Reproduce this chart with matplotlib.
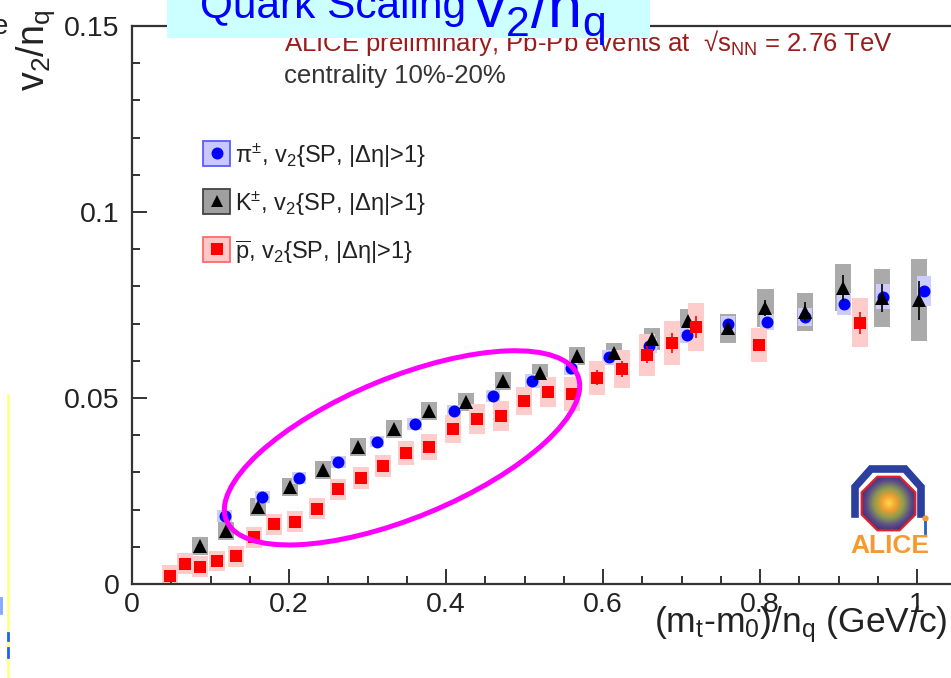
import numpy as np
import matplotlib
matplotlib.use("Agg")
import matplotlib.pyplot as plt
from matplotlib.patches import Ellipse, Polygon, Rectangle
from matplotlib.lines import Line2D
from matplotlib.transforms import ScaledTranslation
from matplotlib.ticker import MultipleLocator, FixedLocator, FuncFormatter
from matplotlib.colors import LinearSegmentedColormap

W, H = 951, 678

# pi+- v2/nq vs (mt-m0)/nq
pi_x = [0.118, 0.166, 0.213, 0.263, 0.312, 0.360, 0.410, 0.460, 0.510, 0.559,
        0.608, 0.659, 0.707, 0.759, 0.809, 0.857, 0.907, 0.957, 1.009]
pi_v2 = [0.0183, 0.0234, 0.0285, 0.0328, 0.0382, 0.0430, 0.0465, 0.0505, 0.0546, 0.0581,
         0.0610, 0.0640, 0.0669, 0.0699, 0.0704, 0.0718, 0.0753, 0.0772, 0.0788]
pi_stat = [0.0003, 0.0003, 0.0003, 0.0003, 0.0003, 0.0003, 0.0003, 0.0004, 0.0004, 0.0004,
           0.0005, 0.0005, 0.0006, 0.0007, 0.0008, 0.0009, 0.0010, 0.0012, 0.0014]
pi_sys = [0.0015, 0.0015, 0.0015, 0.0015, 0.0015, 0.0015, 0.0016, 0.0017, 0.0018, 0.0019,
          0.0020, 0.0020, 0.0021, 0.0022, 0.0022, 0.0024, 0.0030, 0.0034, 0.0040]

# K+- v2/nq
k_x = [0.087, 0.120, 0.161, 0.201, 0.243, 0.288, 0.334, 0.378, 0.425, 0.473, 0.520,
       0.567, 0.614, 0.662, 0.708, 0.759, 0.807, 0.857, 0.906, 0.955, 1.002]
k_v2 = [0.0102, 0.0142, 0.0207, 0.0261, 0.0306, 0.0368, 0.0417, 0.0465, 0.0489, 0.0546, 0.0567,
        0.0613, 0.0622, 0.0659, 0.0707, 0.0688, 0.0742, 0.0731, 0.0796, 0.0769, 0.0763]
k_stat = [0.0005, 0.0005, 0.0005, 0.0005, 0.0005, 0.0005, 0.0005, 0.0006, 0.0006, 0.0007, 0.0007,
          0.0008, 0.0010, 0.0010, 0.0012, 0.0016, 0.0021, 0.0028, 0.0035, 0.0037, 0.0052]
k_sys = [0.0025, 0.0025, 0.0025, 0.0025, 0.0025, 0.0025, 0.0025, 0.0025, 0.0025, 0.0025, 0.0025,
         0.0025, 0.0025, 0.0030, 0.0032, 0.0039, 0.0050, 0.0052, 0.0063, 0.0078, 0.0110]

# anti-proton v2/nq
p_x = [0.048, 0.068, 0.087, 0.108, 0.132, 0.155, 0.181, 0.208, 0.236, 0.262, 0.292, 0.320, 0.349,
       0.378, 0.409, 0.439, 0.470, 0.499, 0.530, 0.561, 0.592, 0.624, 0.656, 0.688, 0.718, 0.799, 0.927]
p_v2 = [0.0022, 0.0054, 0.0046, 0.0062, 0.0075, 0.0126, 0.0161, 0.0167, 0.0202, 0.0255, 0.0285,
        0.0317, 0.0352, 0.0368, 0.0417, 0.0444, 0.0452, 0.0492, 0.0516, 0.0511, 0.0554, 0.0578,
        0.0616, 0.0648, 0.0691, 0.0642, 0.0702]
p_stat = [0.0015, 0.0008, 0.0008, 0.0006, 0.0006, 0.0005, 0.0005, 0.0005, 0.0005, 0.0005, 0.0005,
          0.0006, 0.0006, 0.0007, 0.0007, 0.0008, 0.0009, 0.0010, 0.0013, 0.0015, 0.0020, 0.0022,
          0.0023, 0.0028, 0.0030, 0.0010, 0.0030]
p_sys = [0.0028, 0.0028, 0.0028, 0.0028, 0.0028, 0.0028, 0.0028, 0.0028, 0.0028, 0.0028, 0.0029,
         0.0030, 0.0033, 0.0035, 0.0038, 0.0040, 0.0040, 0.0037, 0.0040, 0.0045, 0.0045, 0.0050,
         0.0056, 0.0060, 0.0065, 0.0045, 0.0066]

x_ticks = [0, 0.2, 0.4, 0.6, 0.8, 1.0]
y_ticks = [0, 0.05, 0.1, 0.15]

legend_labels = [
    "π$^{\\pm}$, v$_2${SP, |Δη|>1}",
    "K$^{\\pm}$, v$_2${SP, |Δη|>1}",
    "$\\overline{\\mathrm{p}}$, v$_2${SP, |Δη|>1}",
]

plt.rcParams.update({
    "font.family": ["Liberation Sans", "DejaVu Sans"],
    "mathtext.fontset": "custom",
    "mathtext.rm": "Liberation Sans",
    "mathtext.it": "Liberation Sans",
    "mathtext.bf": "Liberation Sans:bold",
    "axes.linewidth": 1.6,
    "axes.edgecolor": "#333333",
})


def fx(px):
    return px / W


def fy(py):
    return 1 - py / H


fig = plt.figure(figsize=(W / 100, H / 100), dpi=100)
fig.patch.set_facecolor("white")

ax = fig.add_axes([fx(132), fy(584), 1.05 * 785 / W, 558 / H])
ax.set_xlim(0, 1.05)
ax.set_ylim(0, 0.15)
ax.spines["right"].set_visible(False)

# systematic boxes
half_w = 0.0102
ax.bar(k_x, 2 * np.array(k_sys), width=2 * half_w, bottom=np.array(k_v2) - np.array(k_sys),
       color="#aaaaaa", edgecolor="none", zorder=1)
ax.bar(pi_x, 2 * np.array(pi_sys), width=2 * 0.0092, bottom=np.array(pi_v2) - np.array(pi_sys),
       color="#ccccff", edgecolor="none", zorder=1.1)
ax.bar(p_x, 2 * np.array(p_sys), width=2 * half_w, bottom=np.array(p_v2) - np.array(p_sys),
       color="#ffcccc", edgecolor="none", zorder=1.2)

# points with statistical errors
ax.errorbar(pi_x, pi_v2, yerr=pi_stat, fmt="o", color="#0000ff", ms=8.6, mew=0,
            elinewidth=1.2, capsize=4, capthick=1.2, zorder=3)
ax.errorbar(k_x, k_v2, yerr=k_stat, fmt="^", color="black", ms=9.4, mew=0,
            elinewidth=1.2, capsize=5, capthick=1.2, zorder=3.1)
ax.errorbar(p_x, p_v2, yerr=p_stat, fmt="s", color="#ff0000", ms=8, mew=0,
            elinewidth=1.2, capsize=5, capthick=1.2, zorder=3.2)

ax.xaxis.set_major_locator(FixedLocator(x_ticks))
ax.xaxis.set_minor_locator(MultipleLocator(0.05))
ax.yaxis.set_major_locator(FixedLocator(y_ticks))
ax.yaxis.set_minor_locator(MultipleLocator(0.01))
fmt = FuncFormatter(lambda v, _: f"{v:g}")
ax.xaxis.set_major_formatter(fmt)
ax.yaxis.set_major_formatter(fmt)
ax.tick_params(which="both", direction="in", color="#333333", width=1.4,
               top=False, right=False, labelsize=20.5, labelcolor="#222222")
ax.tick_params(which="major", length=11)
ax.tick_params(which="minor", length=5.5)
ax.tick_params(axis="x", pad=6)
ax.tick_params(axis="y", pad=9)

# axis titles
fig.text(fx(948), fy(632), "(m$_t$-m$_0$)/n$_q$ (GeV/c)", fontsize=25.5,
         ha="right", va="baseline", color="#222222")
fig.text(fx(36), fy(50), "v$_2$/n$_q$", fontsize=27, rotation=90,
         ha="center", va="center", color="#222222")

# header text inside the frame
ax.text(fx(284), fy(51), "ALICE preliminary, Pb-Pb events at  √s$_{\\mathrm{NN}}$ = 2.76 TeV",
        transform=fig.transFigure, fontsize=18.5, color="#9b1c1c", va="baseline")
ax.text(fx(284), fy(83), "centrality 10%-20%", transform=fig.transFigure,
        fontsize=18.5, color="#333333", va="baseline")

# legend
legend_style = [
    ("#c8c8ff", "#5a5aff", "o", "#0000ff", 8.6),
    ("#a0a0a0", "#444444", "^", "black", 9.0),
    ("#ffc8c8", "#ff6a6a", "s", "#ff0000", 8.0),
]
for i, (label, (fc, ec, mk, mc, ms)) in enumerate(zip(legend_labels, legend_style)):
    cy = 153 + 48 * i
    fig.add_artist(Rectangle((fx(203), fy(cy + 12.5)), 27 / W, 25 / H, transform=fig.transFigure,
                             facecolor=fc, edgecolor=ec, linewidth=1.3, zorder=4))
    fig.add_artist(Line2D([fx(216.5)], [fy(cy)], transform=fig.transFigure, marker=mk,
                          color=mc, ms=ms, mew=0, linestyle="none", zorder=4.1))
    fig.text(fx(235), fy(cy + 10), label, fontsize=17, color="#222222", va="baseline")

# magenta ellipse around the intermediate region
ell_trans = fig.dpi_scale_trans + ScaledTranslation(0.344, 0.0366, ax.transData)
ax.add_patch(Ellipse((0, 0), 3.80, 1.40, angle=22.4, transform=ell_trans, fill=False,
                     edgecolor="#ff00ff", linewidth=3.6, zorder=6, clip_on=False))

# title banner
fig.add_artist(Rectangle((fx(167), fy(38)), (650 - 167) / W, 40 / H, transform=fig.transFigure,
                         facecolor="#ccffff", edgecolor="none", zorder=5))
fig.text(fx(200), fy(18), "Quark Scaling", fontsize=30.5, color="#0000ff",
         va="baseline", zorder=6)
fig.text(fx(474), fy(27), "v$_2$/n$_q$", fontsize=44, color="#0000ff",
         va="baseline", zorder=6)

# slide leftovers on the left edge
fig.text(fx(-7), fy(27), "e", fontsize=20, color="#222222", va="center")
fig.add_artist(Line2D([fx(8), fx(8)], [fy(395), fy(678)], transform=fig.transFigure,
                      color="#ffff88", linewidth=2))
fig.add_artist(Line2D([fx(8), fx(8)], [fy(633), fy(640)], transform=fig.transFigure,
                      color="#1f5fff", linewidth=2))
fig.add_artist(Line2D([fx(8), fx(8)], [fy(648), fy(657)], transform=fig.transFigure,
                      color="#1f5fff", linewidth=2))
fig.add_artist(Line2D([fx(0.5), fx(0.5)], [fy(598), fy(613)], transform=fig.transFigure,
                      color="#7fa6ff", linewidth=2))

# ALICE logo
lax = fig.add_axes([fx(845), fy(558), 92 / W, 96 / H])
lax.set_xlim(845, 937)
lax.set_ylim(558, 462)
lax.axis("off")
cx, cy, r = 888.5, 503.5, 29
ang = np.deg2rad(22.5 + 45 * np.arange(8))
octagon = Polygon(np.column_stack([cx + r * np.cos(ang), cy + r * np.sin(ang)]),
                  closed=True, facecolor="none", edgecolor="#e0202a", linewidth=1.6, zorder=3)
lax.add_patch(octagon)
gx, gy = np.meshgrid(np.linspace(cx - r, cx + r, 120), np.linspace(cy - r, cy + r, 120))
rr = np.hypot(gx - cx, gy - cy) / r
burst = LinearSegmentedColormap.from_list("burst", ["#ffd84a", "#f0a030", "#8a9a50", "#5a4a8a", "#3a2a70"])
img = lax.imshow(rr, extent=(cx - r, cx + r, cy + r, cy - r), cmap=burst, vmin=0, vmax=1.05,
                 zorder=2, interpolation="bilinear")
img.set_clip_path(octagon)
lax.plot([855, 855, 871, 905, 921, 921], [514, 487, 469, 469, 487, 514], color="#2a3f9e",
         linewidth=5.5, solid_joinstyle="miter", zorder=1)
lax.text(889.5, 553, "ALICE", fontsize=19, fontweight="bold", color="#f59a30",
         ha="center", va="baseline")
lax.plot([925], [518], marker="o", color="#f59a30", ms=3.5)
lax.plot([925, 925], [522, 533], color="#2a5fc0", linewidth=2)

fig.savefig("out.png", dpi=100)
